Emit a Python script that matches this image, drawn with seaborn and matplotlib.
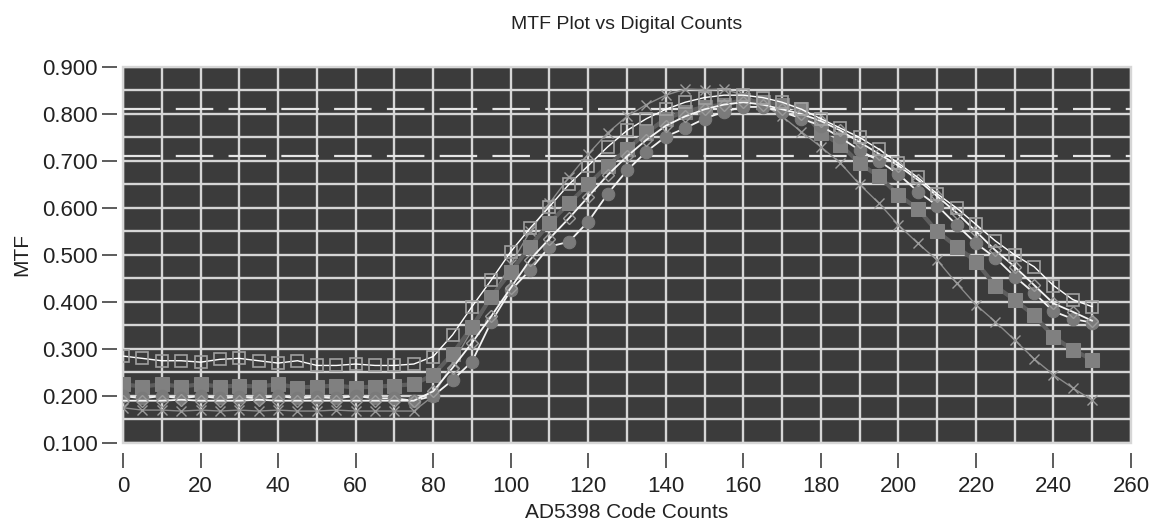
import numpy as np
import pandas as pd
import matplotlib
matplotlib.use("Agg")
import matplotlib.pyplot as plt
import matplotlib.ticker as mticker
from matplotlib.patches import Rectangle
import seaborn as sns

# ---------------- data ----------------
code_counts = list(range(0, 255, 5))

mtf_open_sq = [0.285, 0.280, 0.275, 0.275, 0.272, 0.278, 0.280, 0.275, 0.270, 0.275,
               0.265, 0.265, 0.268, 0.265, 0.265, 0.268, 0.284, 0.330, 0.390, 0.447,
               0.507, 0.557, 0.603, 0.650, 0.690, 0.730, 0.765, 0.790, 0.810, 0.825,
               0.835, 0.840, 0.840, 0.835, 0.825, 0.810, 0.790, 0.770, 0.750, 0.725,
               0.695, 0.665, 0.630, 0.600, 0.565, 0.530, 0.500, 0.475, 0.435, 0.405,
               0.390]

mtf_filled_sq = [0.225, 0.220, 0.225, 0.220, 0.225, 0.220, 0.222, 0.220, 0.225, 0.218,
                 0.220, 0.222, 0.218, 0.220, 0.222, 0.225, 0.245, 0.290, 0.347, 0.411,
                 0.464, 0.518, 0.568, 0.610, 0.650, 0.690, 0.725, 0.760, 0.790, 0.805,
                 0.815, 0.820, 0.830, 0.825, 0.820, 0.810, 0.760, 0.735, 0.695, 0.667,
                 0.628, 0.598, 0.550, 0.518, 0.486, 0.434, 0.404, 0.372, 0.326, 0.298,
                 0.277]

mtf_circles = [0.200, 0.195, 0.200, 0.195, 0.200, 0.195, 0.198, 0.195, 0.200, 0.195,
               0.198, 0.195, 0.200, 0.195, 0.195, 0.190, 0.200, 0.234, 0.273, 0.358,
               0.425, 0.468, 0.518, 0.528, 0.571, 0.630, 0.680, 0.720, 0.752, 0.770,
               0.790, 0.805, 0.815, 0.815, 0.805, 0.790, 0.775, 0.750, 0.723, 0.700,
               0.672, 0.635, 0.605, 0.564, 0.525, 0.494, 0.454, 0.419, 0.380, 0.364,
               0.356]

mtf_diamonds = [0.190, 0.190, 0.190, 0.192, 0.190, 0.190, 0.190, 0.192, 0.190, 0.190,
                0.190, 0.190, 0.190, 0.190, 0.190, 0.190, 0.210, 0.260, 0.313, 0.370,
                0.430, 0.490, 0.535, 0.578, 0.624, 0.670, 0.710, 0.745, 0.775, 0.795,
                0.810, 0.820, 0.825, 0.820, 0.810, 0.800, 0.785, 0.765, 0.740, 0.715,
                0.690, 0.660, 0.625, 0.590, 0.550, 0.510, 0.475, 0.436, 0.397, 0.379,
                0.360]

mtf_cross = [0.175, 0.170, 0.170, 0.168, 0.170, 0.168, 0.170, 0.168, 0.170, 0.168,
             0.168, 0.170, 0.168, 0.168, 0.168, 0.168, 0.200, 0.270, 0.340, 0.410,
             0.480, 0.550, 0.610, 0.665, 0.715, 0.760, 0.795, 0.820, 0.840, 0.853,
             0.851, 0.853, 0.840, 0.820, 0.795, 0.762, 0.730, 0.696, 0.650, 0.610,
             0.564, 0.525, 0.489, 0.440, 0.394, 0.358, 0.319, 0.279, 0.245, 0.217,
             0.191]

ref_levels = [0.81, 0.71]

x_ticks = list(range(0, 261, 20))
y_ticks = [0.1, 0.2, 0.3, 0.4, 0.5, 0.6, 0.7, 0.8, 0.9]

title = "MTF Plot vs Digital Counts"
x_label = "AD5398 Code Counts"
y_label = "MTF"

# ---------------- style ----------------
sns.set_style("white")
plt.rcParams["font.family"] = ["Liberation Sans Narrow", "Liberation Sans", "DejaVu Sans"]
plt.rcParams["lines.scale_dashes"] = False

fig = plt.figure(figsize=(11.52, 5.27), dpi=100)
ax = fig.add_axes([0.1068, 0.1594, 0.8750, 0.7135])
ax.set_facecolor("#3b3b3b")

grid_c = "#d6d6d6"

series = [
    ("cross", mtf_cross, dict(color="#8c8c8c", linewidth=1.0, marker="x", markersize=7,
                              markeredgecolor="#9a9a9a", markeredgewidth=1.0, zorder=3)),
    ("filled_sq", mtf_filled_sq, dict(color="#5e5e5e", linewidth=3.0, marker="s", markersize=10,
                                      markerfacecolor="#808080", markeredgecolor="#808080", zorder=4)),
    ("circles", mtf_circles, dict(color="#f2f2f2", linewidth=1.3, marker="o", markersize=9,
                                  markerfacecolor="#7a7a7a", markeredgecolor="#7a7a7a", zorder=5)),
    ("diamonds", mtf_diamonds, dict(color="#f5f5f5", linewidth=1.3, marker="D", markersize=6,
                                    markerfacecolor="none", markeredgecolor="#9a9a9a",
                                    markeredgewidth=1.0, zorder=6)),
    ("open_sq", mtf_open_sq, dict(color="#ffffff", linewidth=1.0, marker="s", markersize=8,
                                  markerfacecolor="none", markeredgecolor="#a0a0a0",
                                  markeredgewidth=1.2, zorder=7)),
]

for name, vals, kw in series:
    df = pd.DataFrame({"x": code_counts, "y": vals})
    sns.lineplot(data=df, x="x", y="y", ax=ax, estimator=None, errorbar=None,
                 sort=False, legend=False, **kw)

for lvl in ref_levels:
    ax.axhline(lvl, color="#e6e6e6", linewidth=1.6, dashes=(27, 11), zorder=2)

ax.set_xlim(0, 260)
ax.set_ylim(0.1, 0.9)
ax.xaxis.set_major_locator(mticker.FixedLocator(x_ticks))
ax.xaxis.set_minor_locator(mticker.MultipleLocator(10))
ax.yaxis.set_major_locator(mticker.FixedLocator(y_ticks))
ax.yaxis.set_minor_locator(mticker.MultipleLocator(0.05))
ax.yaxis.set_major_formatter(mticker.FormatStrFormatter("%.3f"))

ax.grid(True, which="both", color=grid_c, linewidth=1.7, zorder=1)
ax.set_axisbelow(True)

for s in ax.spines.values():
    s.set_visible(False)
ax.spines["left"].set_position(("outward", 4))
ax.spines["bottom"].set_position(("outward", 7))

ax.tick_params(axis="y", which="major", direction="out", length=11, width=1.1,
               color="#303030", pad=3, labelsize=16, labelcolor="#222222", left=True)
ax.tick_params(axis="x", which="major", direction="out", length=11, width=1.1,
               color="#303030", pad=6, labelsize=16, labelcolor="#222222", bottom=True)
ax.tick_params(which="minor", length=0)

border = Rectangle((0, 0), 1, 1, transform=ax.transAxes, fill=False,
                   edgecolor=grid_c, linewidth=1.7, clip_on=False, zorder=1)
ax.add_patch(border)

ax.set_title(title, fontsize=14, color="#222222", pad=27)
ax.set_xlabel(x_label, fontsize=15, color="#222222", labelpad=4)
ax.set_ylabel(y_label, fontsize=15, color="#222222", labelpad=8)

fig.savefig("out.png", dpi=100, facecolor="white")
